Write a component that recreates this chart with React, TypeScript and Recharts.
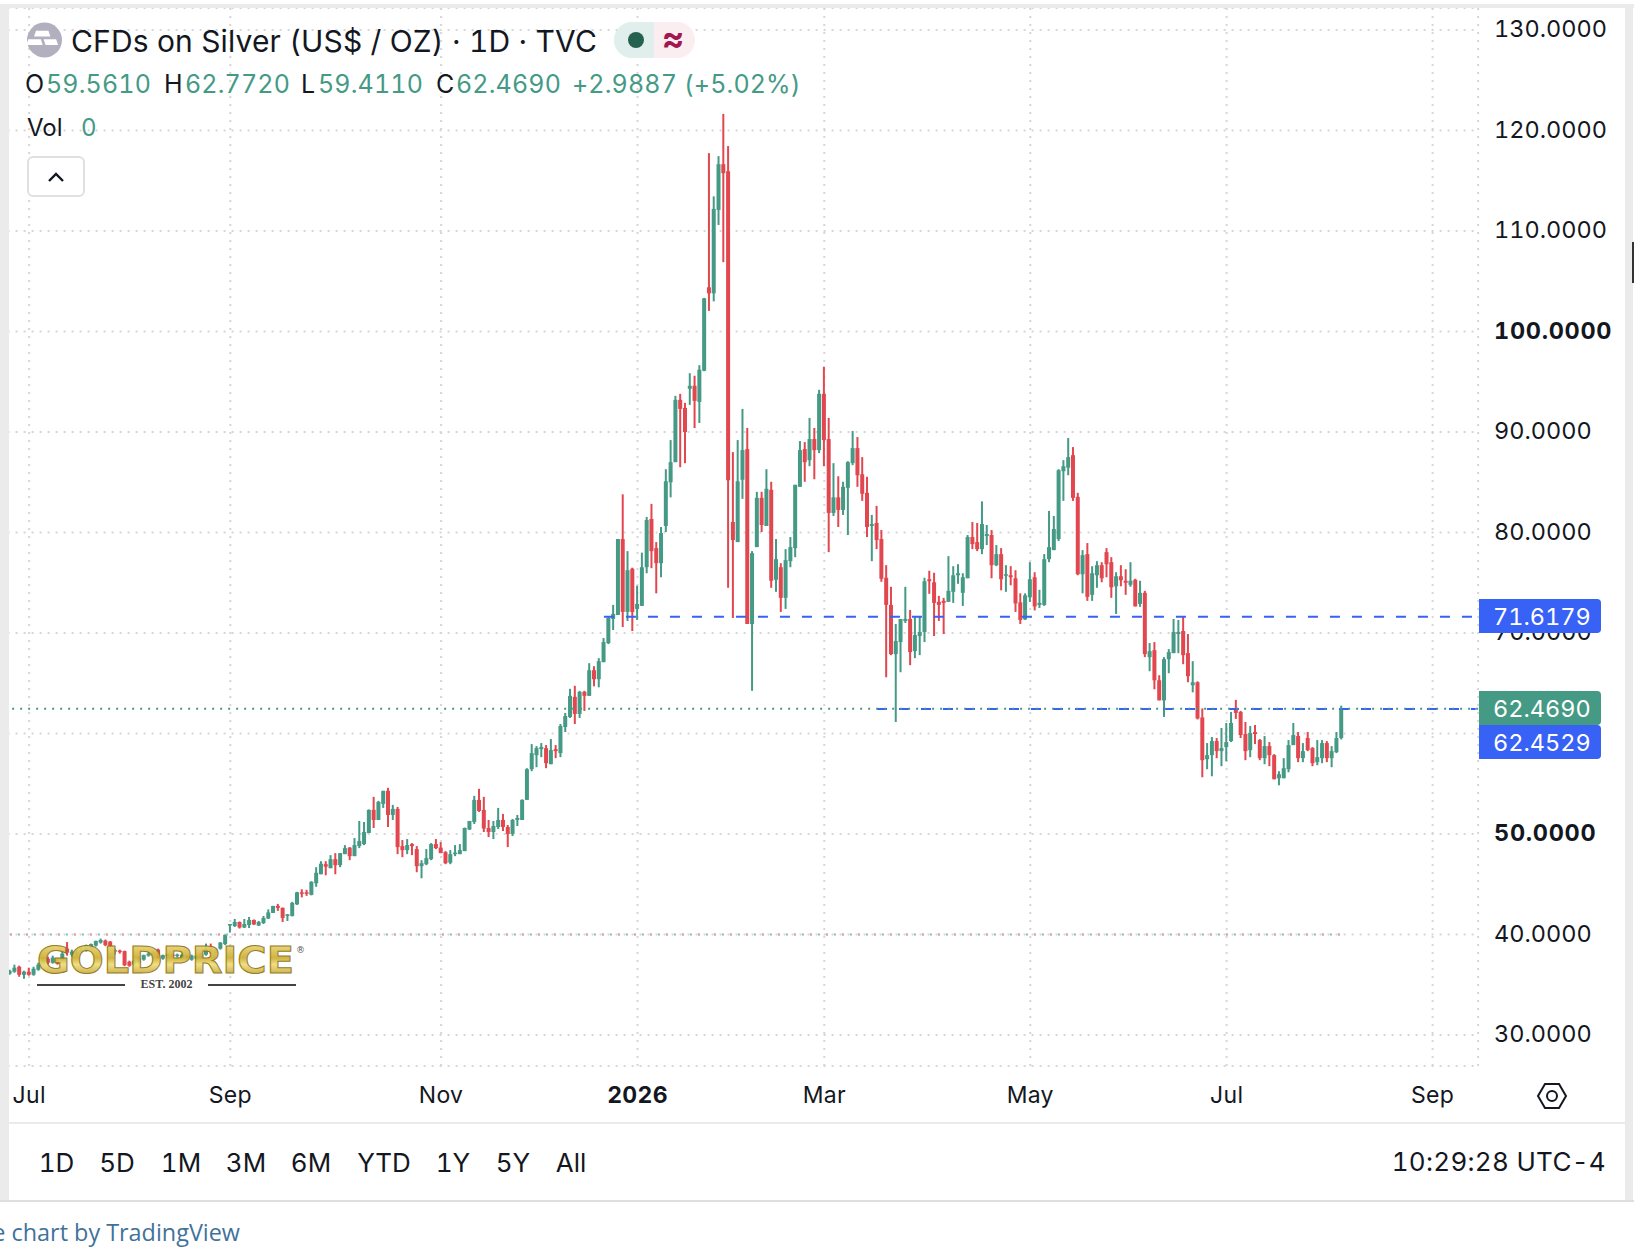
import React from 'react';
import { ComposedChart, Bar, XAxis, YAxis, CartesianGrid, ReferenceLine } from 'recharts';

const opens = [
  36.1,36.3,36.8,36.0,36.3,36.0,36.5,37.0,37.6,37.2,
  37.4,37.5,38.6,38.0,38.1,38.3,38.4,38.6,38.9,39.2,
  39.4,39.3,38.3,38.4,38.35,37.3,37.0,37.2,37.5,37.9,
  38.0,38.5,37.6,37.9,38.0,37.85,37.7,37.8,37.5,37.6,
  37.7,38.0,38.7,38.2,38.6,39.05,40.9,40.85,41.25,40.7,
  40.95,41.45,40.9,41.15,41.6,42.15,42.85,42.65,41.95,41.85,
  43.0,44.2,44.2,43.95,45.1,46.0,47.0,46.6,47.5,46.9,
  48.0,48.65,47.8,48.8,49.0,50.1,52.4,51.4,53.0,54.3,
  51.9,52.5,48.8,48.4,49.0,48.5,46.8,47.0,47.5,49.0,
  48.65,48.2,47.15,48.0,48.0,48.3,50.45,51.2,53.4,52.4,
  50.6,50.2,50.7,51.4,50.7,50.0,51.4,51.4,53.4,56.45,
  57.85,58.45,58.55,56.95,58.45,58.05,60.65,61.65,63.65,61.95,
  64.15,63.75,66.3,65.4,67.1,69.0,71.4,71.8,79.35,72.1,
  76.4,72.4,72.7,76.55,81.35,78.45,76.95,80.65,85.0,87.0,
  93.2,92.4,94.3,94.6,93.0,96.1,104.4,103.8,112.1,116.65,
  115.95,81.05,79.05,85.25,88.3,70.9,78.55,83.45,80.65,84.25,
  75.3,76.55,73.5,77.15,78.45,84.55,88.3,87.2,89.3,88.2,
  93.8,89.3,81.95,83.5,82.25,84.45,86.9,88.4,85.8,83.95,
  80.65,80.95,79.35,75.5,72.8,67.9,69.1,71.2,71.4,68.2,
  69.7,70.1,75.35,75.05,73.1,73.2,73.1,74.1,75.75,74.0,
  75.45,79.55,79.05,78.35,79.65,79.75,76.75,77.85,75.7,75.75,
  75.45,73.05,71.35,73.55,75.55,72.8,72.8,77.35,78.25,79.35,
  86.1,86.45,87.7,83.55,75.85,77.85,73.8,75.75,76.75,78.05,
  77.05,74.65,75.65,75.2,74.8,75.3,72.9,74.0,67.6,68.3,
  65.3,63.3,67.4,68.0,69.9,70.2,68.0,64.8,65.1,61.6,
  57.45,57.85,59.25,58.25,58.65,59.25,62.55,62.15,59.95,58.35,
  60.15,59.35,57.55,58.75,57.85,55.55,55.55,56.45,58.85,59.75,
  57.55,59.55,58.55,57.15,57.55,59.05,57.55,58.15,59.561,
];

const highs = [
  36.5,37.0,36.9,36.4,36.7,36.8,37.2,37.7,37.8,37.9,
  37.6,38.3,39.25,38.5,38.5,38.7,39.0,39.1,39.4,39.6,
  39.5,39.35,38.6,38.5,38.4,37.4,37.5,37.8,38.0,38.3,
  38.4,38.6,38.0,38.1,38.1,38.1,38.1,38.0,38.0,37.95,
  38.2,39.1,39.1,38.6,39.25,40.0,41.05,41.55,41.3,41.55,
  41.75,41.5,41.35,41.85,42.5,42.85,43.05,42.7,42.05,43.25,
  44.25,44.5,44.45,45.3,46.7,47.3,47.3,47.9,48.1,48.1,
  48.9,48.7,49.6,51.3,51.2,52.45,53.7,53.3,54.3,54.6,
  52.9,52.7,49.4,49.5,49.1,48.8,47.4,48.5,49.1,49.5,
  49.2,48.3,48.4,48.9,49.0,50.65,51.3,53.8,54.5,53.7,
  51.4,51.3,52.6,52.0,50.9,51.5,51.9,53.45,56.55,58.95,
  58.75,59.05,58.85,59.45,58.85,60.95,62.05,64.45,64.75,64.25,
  64.25,67.0,66.7,67.5,69.5,71.6,72.8,79.35,83.8,78.15,
  76.5,74.7,78.0,81.55,82.85,79.05,80.55,86.3,89.2,93.6,
  93.8,92.9,95.85,95.6,96.65,103.35,117.75,113.45,117.45,121.65,
  118.45,88.0,89.2,92.3,90.4,78.15,84.05,84.05,86.3,85.05,
  79.35,76.95,78.35,79.55,84.75,89.1,89.0,91.4,90.4,94.2,
  96.5,91.4,86.9,85.6,85.05,87.1,90.1,89.5,87.5,85.55,
  81.75,82.65,80.25,76.75,74.6,70.9,71.4,74.6,72.3,71.7,
  71.7,75.5,76.2,76.0,73.7,73.5,77.65,76.65,76.85,75.95,
  79.75,81.05,80.95,83.1,80.75,80.25,78.75,78.45,76.75,76.65,
  76.25,73.95,73.95,77.05,76.05,74.3,77.85,82.15,81.65,86.3,
  87.2,89.4,88.5,83.95,78.25,78.95,76.65,77.15,77.05,78.45,
  77.55,76.05,76.75,76.35,77.05,75.4,75.2,74.2,69.0,69.1,
  65.8,67.6,68.4,71.4,71.3,71.6,69.9,67.2,65.2,62.5,
  59.05,59.65,59.55,60.55,61.05,62.15,63.35,62.25,61.15,60.75,
  60.85,59.45,59.75,59.15,57.95,56.25,57.55,59.35,61.05,60.15,
  59.05,60.15,58.65,59.35,59.35,59.25,58.75,60.15,62.772,
];

const lows = [
  36.0,36.2,35.8,35.6,35.9,35.9,36.4,36.9,37.0,37.1,
  37.0,37.4,37.9,37.8,37.9,38.2,38.3,38.5,38.8,39.1,
  38.85,38.7,38.0,38.1,36.85,36.8,36.9,37.0,37.4,37.8,
  37.9,37.6,37.5,37.8,37.8,37.7,37.6,37.6,37.4,37.5,
  37.6,37.9,38.1,38.1,38.5,38.95,40.2,40.75,40.6,40.65,
  40.65,40.95,40.85,41.05,41.55,42.15,42.35,41.25,41.35,41.8,
  42.95,43.7,43.85,43.9,44.75,46.0,45.9,46.6,46.0,46.7,
  48.0,47.4,47.8,48.6,48.9,50.1,50.6,51.4,52.6,50.7,
  51.4,48.0,47.7,48.0,47.9,46.2,45.6,46.9,47.4,48.5,
  48.1,47.0,47.0,47.8,48.0,48.3,50.4,51.0,52.2,50.2,
  49.7,49.5,50.5,50.3,48.7,49.8,50.8,51.4,53.4,56.25,
  56.65,57.65,56.55,56.95,57.55,57.65,60.15,61.55,60.95,61.55,
  62.25,63.75,64.7,64.6,67.1,68.9,70.3,71.8,70.6,71.2,
  70.2,71.3,72.7,75.95,76.45,73.95,75.55,80.05,83.5,87.0,
  86.5,86.9,92.7,90.4,90.9,96.05,102.05,103.0,110.6,106.9,
  74.5,71.5,79.05,83.35,70.9,64.25,78.55,80.05,80.65,74.5,
  74.1,72.1,72.4,76.55,77.55,84.55,85.05,86.6,85.3,87.9,
  86.6,78.05,81.65,80.55,81.75,79.75,86.7,84.55,83.15,79.55,
  77.15,78.35,75.1,65.6,67.8,61.15,66.1,71.0,66.8,67.5,
  67.8,69.1,73.9,69.7,71.2,69.9,73.1,73.0,74.9,72.7,
  75.45,78.35,78.15,77.85,78.75,75.45,76.65,74.25,74.1,74.75,
  72.1,70.9,71.3,73.1,72.25,72.5,72.7,77.05,78.25,79.15,
  83.15,85.7,83.15,75.75,73.95,73.2,73.2,74.5,75.05,75.55,
  73.5,71.9,74.65,73.8,74.6,72.65,72.6,67.6,66.2,64.4,
  63.3,61.65,66.0,68.0,68.0,66.9,65.1,64.1,61.4,55.65,
  56.45,55.75,57.55,56.75,57.25,59.15,61.45,59.55,57.35,57.65,
  58.95,57.35,56.95,56.75,55.45,54.85,55.55,56.15,58.85,57.15,
  57.15,58.25,56.75,56.85,57.05,57.15,56.65,58.05,59.411,
];

const closes = [
  36.4,36.7,36.0,36.3,36.0,36.6,37.0,37.5,37.2,37.7,
  37.1,38.1,38.2,38.3,38.3,38.5,38.9,39.05,39.35,39.45,
  38.95,38.85,38.45,38.3,36.95,36.9,37.4,37.6,37.95,38.1,
  38.2,37.7,37.95,38.0,37.9,38.0,38.0,37.95,37.9,37.9,
  38.05,38.6,38.3,38.5,39.2,39.95,41.05,41.25,40.7,41.05,
  41.45,41.0,41.25,41.65,42.2,42.85,42.65,41.65,42.0,43.15,
  44.2,44.05,44.05,45.25,46.15,47.05,46.75,47.5,46.9,48.1,
  48.6,47.8,48.9,49.3,50.2,52.4,51.4,53.2,54.3,51.9,
  52.5,48.7,48.4,48.9,48.8,46.8,47.1,47.6,49.0,48.6,
  48.1,47.1,48.0,48.15,48.4,50.6,51.3,53.4,52.3,50.55,
  50.2,50.8,51.4,50.7,50.0,51.4,51.6,53.4,56.45,58.05,
  58.55,58.65,57.05,58.35,58.25,60.75,61.75,63.75,61.95,64.15,
  63.75,66.3,65.4,67.2,69.1,71.5,71.9,79.35,72.1,76.25,
  72.1,72.9,76.55,81.25,78.15,76.95,79.95,85.1,87.0,93.2,
  92.3,90.0,94.6,93.1,96.2,103.3,103.8,112.2,116.65,115.75,
  85.2,79.25,85.1,88.2,70.9,77.95,83.45,80.75,84.35,75.2,
  77.35,73.5,77.25,78.55,84.75,88.2,87.0,89.3,88.2,93.8,
  89.2,81.95,83.5,82.25,84.55,87.0,88.4,85.7,83.85,80.55,
  80.85,79.25,75.4,72.8,67.9,69.2,71.4,71.4,68.1,69.8,
  70.1,75.15,75.15,73.0,72.8,73.0,74.2,75.75,75.95,75.55,
  79.55,78.85,78.35,80.85,79.85,76.75,77.85,75.35,75.85,75.55,
  72.95,71.3,73.75,75.35,72.65,73.0,77.35,78.55,80.35,86.2,
  86.6,87.5,83.45,75.85,77.75,73.6,75.95,76.75,75.45,76.85,
  74.55,75.65,75.25,75.0,75.2,72.65,74.0,67.9,68.2,65.3,
  63.3,67.4,68.1,70.1,70.1,67.8,65.7,65.1,61.5,57.35,
  57.85,59.25,58.25,58.55,59.15,61.05,62.05,59.85,58.25,60.05,
  59.95,57.55,58.75,57.85,55.45,55.95,56.55,58.85,59.85,57.55,
  58.25,58.35,57.05,57.65,59.05,57.55,58.25,59.55,62.469,
];

// bar index -> month label on the time scale
const timeTicks = [4, 46, 90, 131, 170, 213, 254, 297];
const timeLabels = ['Jul', 'Sep', 'Nov', '2026', 'Mar', 'May', 'Jul', 'Sep'];
const priceTicks = [30, 40, 50, 60, 70, 80, 90, 100, 110, 120, 130];
const ranges = ['1D', '5D', '1M', '3M', '6M', 'YTD', '1Y', '5Y', 'All'];
const rangeCenters = [56.5, 117, 181, 246, 311, 384, 453, 513, 571];

const UP = '#459A85';
const DOWN = '#E2474F';
const BLUE = '#3861F6';
const INK = '#131722';
const DOTS = '#d6d6d6';
const FONT = 'Inter, sans-serif';

const LAST_ROW = 306;
const rows = Array.from({ length: LAST_ROW + 1 }, (_, i) => ({
  i,
  open: opens[i],
  high: highs[i],
  low: lows[i],
  close: closes[i],
}));

const Candle = (props: any) => {
  const { x, y, width, height, payload } = props;
  if (payload.high === undefined || !height) return null;
  const color = payload.close >= payload.open ? UP : DOWN;
  const perUnit = height / (payload.high - payload.low);
  const top = y + (payload.high - Math.max(payload.open, payload.close)) * perUnit;
  const bodyH = Math.max(Math.abs(payload.open - payload.close) * perUnit, 1.5);
  const cx = x + width / 2;
  return (
    <g>
      <rect x={cx - 1} y={y} width={2} height={height} fill={color} />
      <rect x={cx - 2} y={top} width={4} height={bodyH} fill={color} />
    </g>
  );
};

const PriceTick = (props: any) => {
  const { y, payload } = props;
  const bold = payload.value === 100 || payload.value === 50;
  return (
    <text x={1494} y={y} dy={7} fontFamily={FONT} fontSize={23.5} letterSpacing={bold ? 0.7 : 0} fontWeight={bold ? 700 : 400} fill={INK} style={{ fontVariantNumeric: 'tabular-nums' }}>
      {payload.value.toFixed(4)}
    </text>
  );
};

const TimeTick = (props: any) => {
  const { x, payload } = props;
  const label = timeLabels[timeTicks.indexOf(payload.value)];
  return (
    <text x={x} y={1095} dy={8} textAnchor="middle" fontFamily={FONT} fontSize={23} letterSpacing={0.3} fontWeight={label === '2026' ? 700 : 400} fill={INK} style={{ fontVariantNumeric: 'tabular-nums' }}>
      {label}
    </text>
  );
};

const abs = (left: number, top: number, extra: React.CSSProperties = {}): React.CSSProperties => ({
  position: 'absolute', left, top, whiteSpace: 'nowrap', fontVariantNumeric: 'tabular-nums', ...extra,
});

const PriceLabel = ({ top, bg, text }: { top: number; bg: string; text: string }) => (
  <div style={abs(1479, top, {
    width: 122, height: 34, background: bg, borderRadius: '0 4px 4px 0', color: '#fff',
    fontSize: 23.5, lineHeight: '36px', paddingLeft: 14, boxSizing: 'border-box',
  })}>{text}</div>
);

// key, value, key x, value x
const ohlc: [string, string, number, number][] = [
  ['O', '59.5610', 25, 46], ['H', '62.7720', 164, 185], ['L', '59.4110', 301, 318], ['C', '62.4690', 436, 456],
];

const legendText: React.CSSProperties = { fontSize: 25, lineHeight: '30px', letterSpacing: 0.15 };

export default function App() {
  return (
    <div style={{ position: 'absolute', left: 0, top: 0, width: 1634, height: 1258, background: '#fff', overflow: 'hidden', fontFamily: FONT, color: INK }}>
      <div style={{ position: 'absolute', left: 0, top: 0 }}>
        <ComposedChart width={1634} height={1258} data={rows} margin={{ top: 8, right: 0, bottom: 0, left: 7.6 }} barCategoryGap={0}>
          <CartesianGrid stroke={DOTS} strokeWidth={2} strokeDasharray="2 6" />
          <XAxis dataKey="i" type="category" ticks={timeTicks} interval={0} height={192} axisLine={false} tickLine={false} tick={<TimeTick />} />
          <YAxis orientation="right" width={155.87} domain={[26.92, 132.19]} ticks={priceTicks} axisLine={false} tickLine={false} tick={<PriceTick />} allowDataOverflow />
          <ReferenceLine segment={[{ x: 0, y: 40 }, { x: 278, y: 40 }]} stroke="#7fc4b8" strokeWidth={2} strokeDasharray="2 6" />
          <ReferenceLine segment={[{ x: 0, y: 40 }, { x: 278, y: 40 }]} stroke="#eda0a4" strokeWidth={2} strokeDasharray="2 14" />
          <ReferenceLine segment={[{ x: 124, y: 71.6179 }, { x: LAST_ROW, y: 71.6179 }]} stroke={BLUE} strokeWidth={2} strokeDasharray="10 12" />
          <ReferenceLine segment={[{ x: 181, y: 62.4529 }, { x: LAST_ROW, y: 62.4529 }]} stroke={BLUE} strokeWidth={2} strokeDasharray="10 12" />
          <ReferenceLine y={62.469} stroke={UP} strokeWidth={2} strokeDasharray="2 6" />
          <Bar dataKey={(d: any) => (d.high === undefined ? null : [d.low, d.high])} barSize={4} shape={<Candle />} isAnimationActive={false} />
        </ComposedChart>
      </div>

      {/* panel frame */}
      <div style={{ position: 'absolute', left: 0, top: 4, width: 1634, height: 4, background: '#ebebeb' }} />
      <div style={{ position: 'absolute', left: 0, top: 4, width: 9, height: 1197, background: '#ebebeb' }} />
      <div style={{ position: 'absolute', left: 1625, top: 4, width: 8, height: 1197, background: '#ebebeb' }} />
      <div style={{ position: 'absolute', left: 1632, top: 242, width: 2, height: 41, background: '#333' }} />
      <div style={{ position: 'absolute', left: 9, top: 1122, width: 1616, height: 2, background: '#ebebeb' }} />
      <div style={{ position: 'absolute', left: 0, top: 1200, width: 1634, height: 2, background: '#dedede' }} />

      {/* legend */}
      <svg style={{ position: 'absolute', left: 0, top: 0 }} width={1634} height={1258}>
        <defs>
          <linearGradient id="gold" x1="0" y1="0" x2="0" y2="1">
            <stop offset="0" stopColor="#f7ea97" />
            <stop offset="0.45" stopColor="#cdae35" />
            <stop offset="0.6" stopColor="#efdd79" />
            <stop offset="1" stopColor="#a5841c" />
          </linearGradient>
        </defs>
        <circle cx={44.5} cy={40} r={17.5} fill="#b2b0bf" />
        <path d="M38 32h13l2 6H36zM30 41h13l2 6H28zM46 41h13l2 6H48z" fill="#fff" transform="translate(-0.5,0) scale(0.96)" />
        <path d="M614 40a18 18 0 0 1 18-18h22v36h-22a18 18 0 0 1-18-18z" fill="#e0efec" />
        <path d="M654 22h23a18 18 0 0 1 0 36h-23z" fill="#fbeef1" />
        <circle cx={636} cy={40} r={8} fill="#24614f" />
        <text x={673} y={50} textAnchor="middle" fontFamily={FONT} fontSize={34} fontWeight={700} fill="#a3164f">≈</text>
        <rect x={28} y={157} width={56} height={39} rx={5} fill="#fff" stroke="#e0e0e0" strokeWidth={2} />
        <path d="M49 181l7-7 7 7" fill="none" stroke={INK} strokeWidth={2.4} />

        {/* logo */}
        <text x={37} y={973} textLength={257} lengthAdjust="spacingAndGlyphs" fontFamily="DejaVu Sans, sans-serif" fontWeight={700} fontSize={38} fill="url(#gold)" stroke="#8f7312" strokeWidth={1} opacity={0.93}>GOLDPRICE</text>
        <text x={296} y={953} fontFamily="DejaVu Sans, sans-serif" fontSize={9} fill="#555">®</text>
        <rect x={37} y={984} width={88} height={2} fill="#444" />
        <rect x={208} y={984} width={88} height={2} fill="#444" />
        <text x={166.5} y={988} textAnchor="middle" fontFamily="Liberation Serif, serif" fontWeight={700} fontSize={12} fill="#444">EST. 2002</text>

        {/* settings */}
        <path d="M1545 1084h14l7 12-7 12h-14l-7-12z" fill="none" stroke={INK} strokeWidth={2} />
        <circle cx={1552} cy={1096} r={5} fill="none" stroke={INK} strokeWidth={2} />
      </svg>

      <div style={abs(71, 21, { fontSize: 30, lineHeight: '40px', letterSpacing: 0.15 })}>CFDs on Silver (US$ / OZ) · 1D · TVC</div>
      {ohlc.map(([k, v, keyX, valueX]) => (
        <React.Fragment key={k}>
          <div style={abs(keyX, 69, legendText)}>{k}</div>
          <div style={abs(valueX, 69, { ...legendText, color: UP })}>{v}</div>
        </React.Fragment>
      ))}
      <div style={abs(572, 69, { ...legendText, color: UP })}>+2.9887 (+5.02%)</div>
      <div style={abs(27, 113, { fontSize: 24, lineHeight: '30px' })}>Vol</div>
      <div style={abs(81, 113, { fontSize: 24, lineHeight: '30px', color: UP })}>0</div>

      <PriceLabel top={599} bg={BLUE} text="71.6179" />
      <PriceLabel top={691} bg={UP} text="62.4690" />
      <PriceLabel top={725} bg={BLUE} text="62.4529" />

      {ranges.map((r, i) => (
        <div key={r} style={abs(rangeCenters[i] - 40, 1148, { width: 80, textAlign: 'center', fontSize: 26, lineHeight: '30px' })}>{r}</div>
      ))}
      <div style={{ position: 'absolute', right: 28, top: 1147, fontSize: 26, letterSpacing: 0.3, lineHeight: '30px', whiteSpace: 'nowrap', fontVariantNumeric: 'tabular-nums' }}>10:29:28 UTC-4</div>
      <div style={{ position: 'absolute', right: 1394, top: 1216, fontFamily: '"Open Sans", sans-serif', fontSize: 23.4, lineHeight: '32px', color: '#3f729b', whiteSpace: 'nowrap' }}>e chart by TradingView</div>
    </div>
  );
}
